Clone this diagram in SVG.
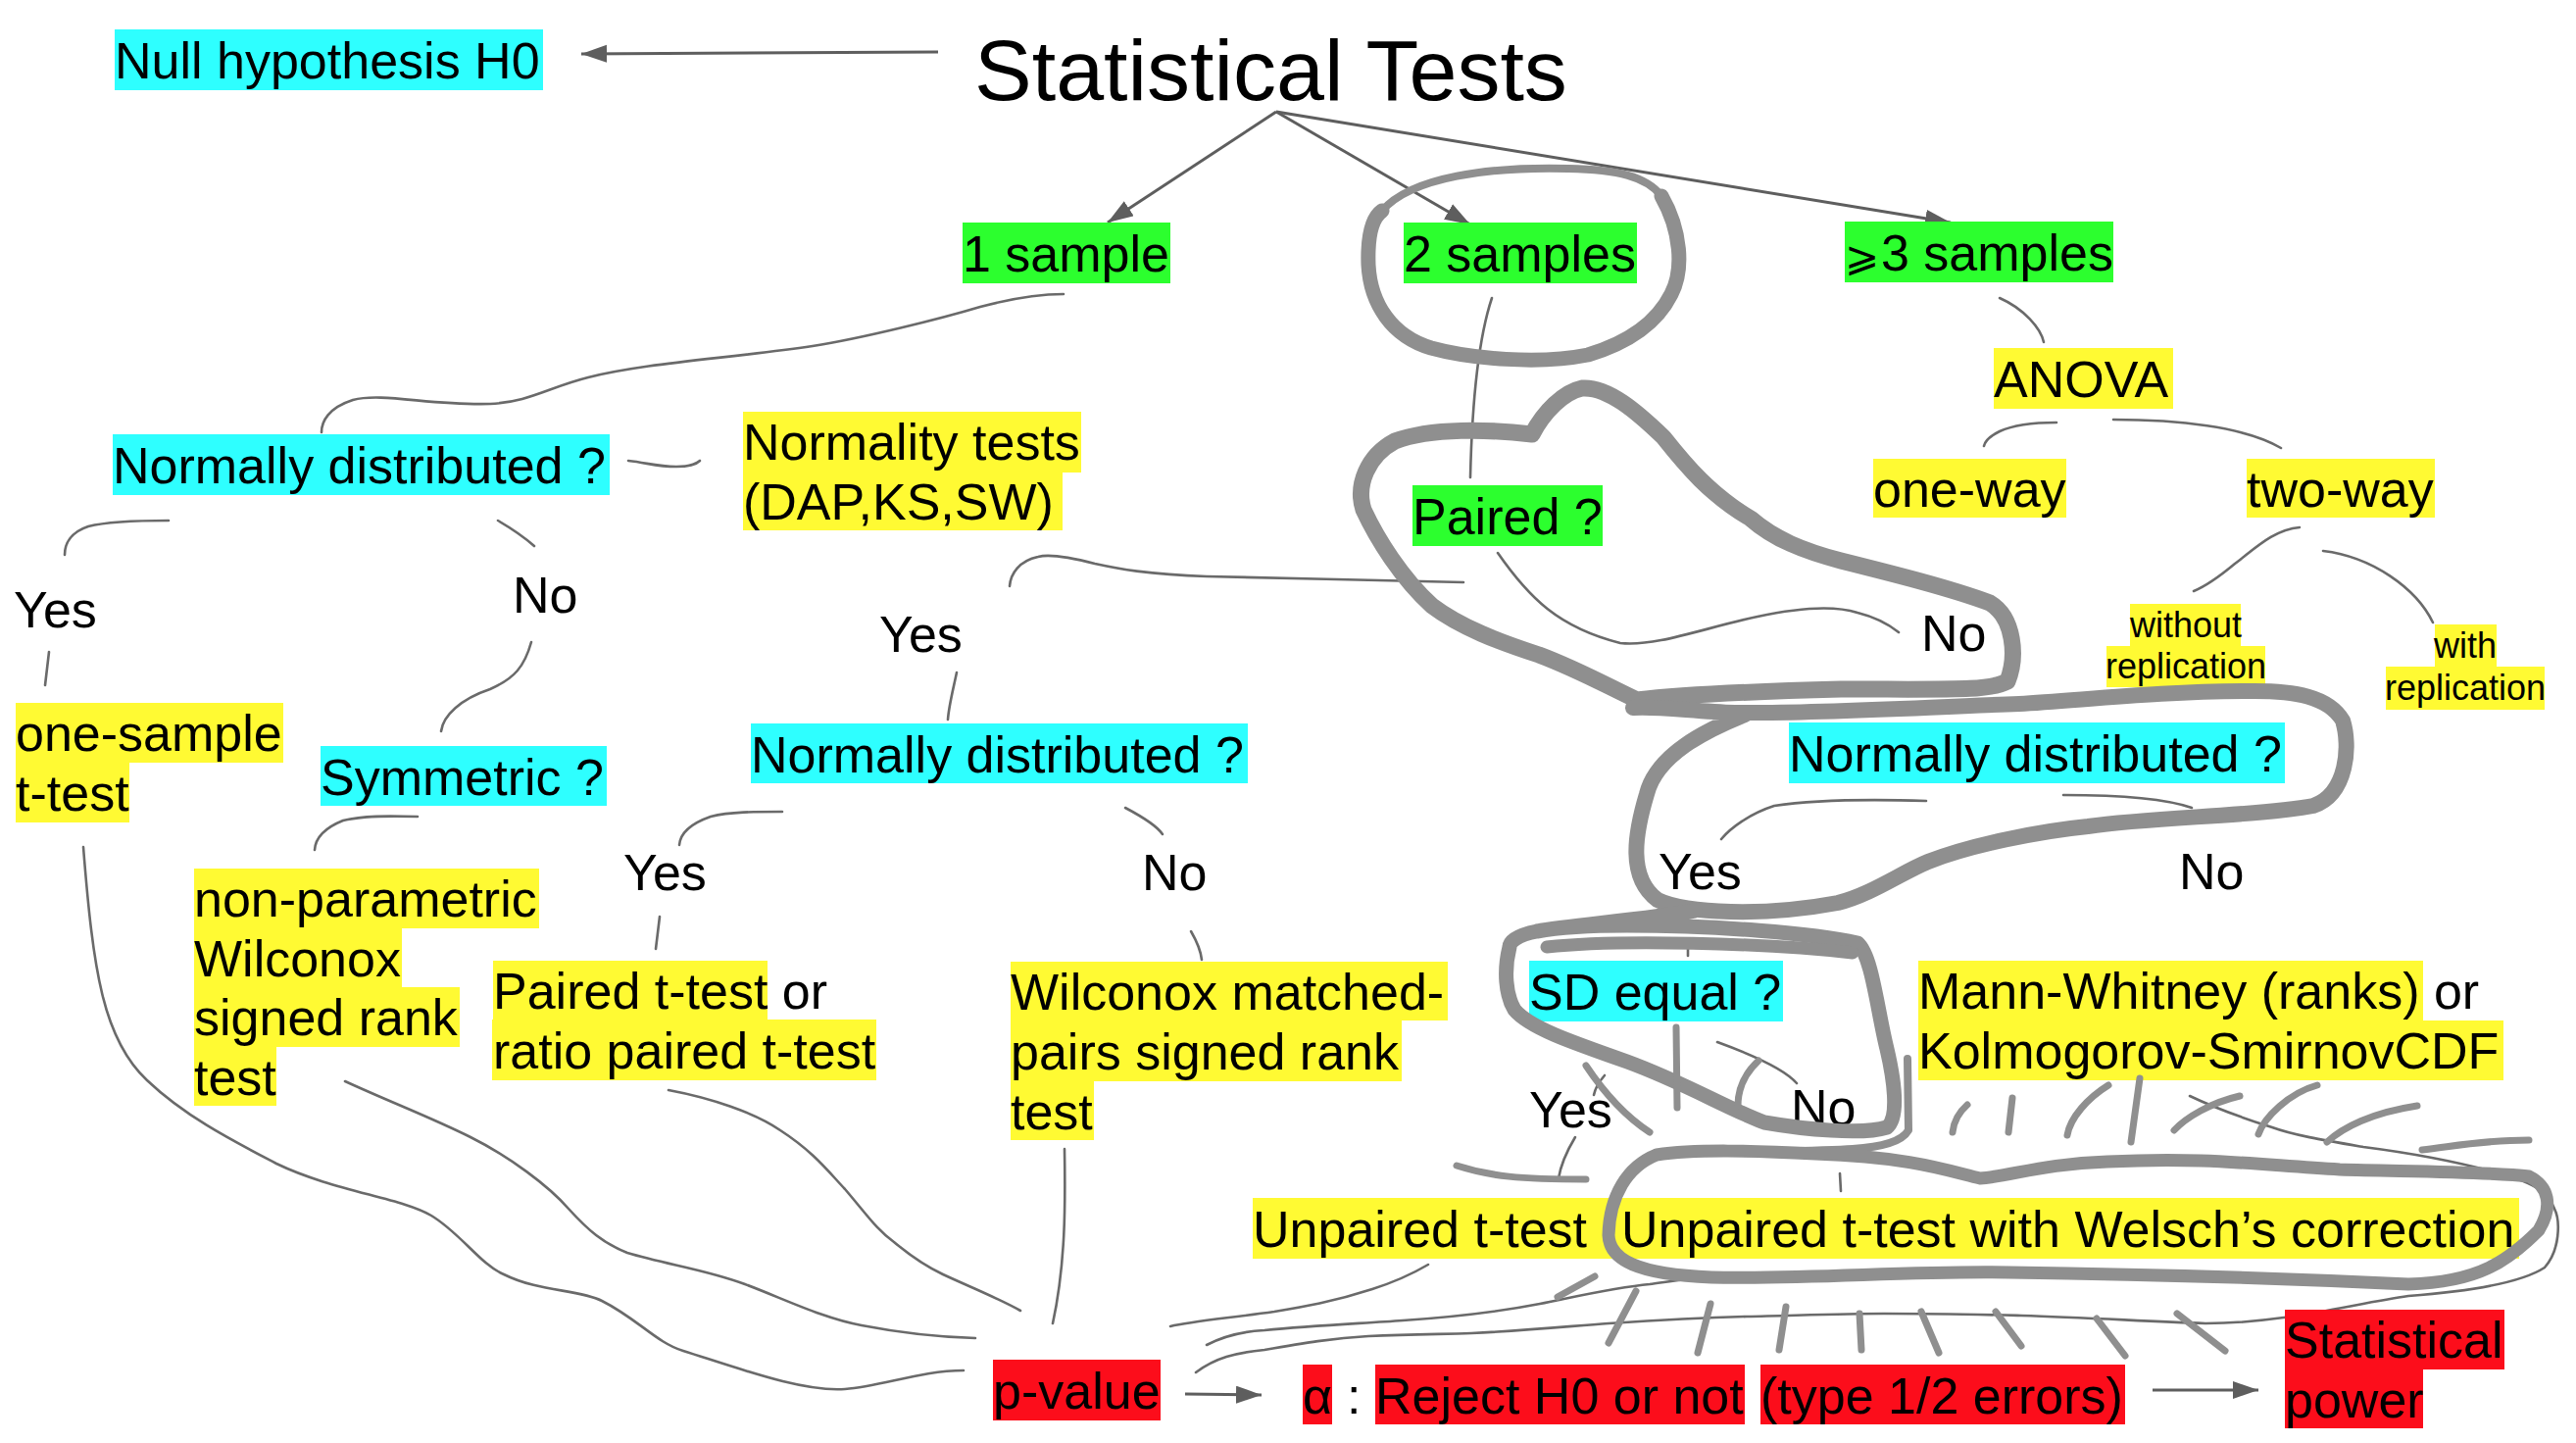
<svg xmlns="http://www.w3.org/2000/svg" width="2628" height="1472" viewBox="0 0 2628 1472">
<defs>
<style>
text{font-family:"Liberation Sans",Arial,sans-serif;font-size:52px;fill:#000}
.big{font-size:88px}
.sm{font-size:36px}
.cy{fill:#2effff}
.gr{fill:#2cff2e}
.ye{fill:#fffa33}
.rd{fill:#fc0d1b}
.c{fill:none;stroke:#6a6a6a;stroke-width:2.6;stroke-linecap:round}
.a{fill:none;stroke:#5e5e5e;stroke-width:3;marker-end:url(#ah)}
.loop{fill:none;stroke:#8f8f8f;stroke-linecap:round;stroke-linejoin:round}
.tk{fill:none;stroke:#8f8f8f;stroke-width:7;stroke-linecap:round}
</style>
<marker id="ah" markerUnits="userSpaceOnUse" markerWidth="28" markerHeight="20" refX="26" refY="9" orient="auto"><path d="M0,0 L26,9 L0,18 z" fill="#5e5e5e"/></marker>
</defs>
<rect width="2628" height="1472" fill="#fff"/>

<g id="connectors">
<path class="a" d="M957,53 L593,55"/>
<path class="a" d="M1302,114 L1130,227"/>
<path class="a" d="M1302,114 L1500,229"/>
<path class="a" d="M1302,114 L1990,227"/>
<path class="c" d="M1085,300 C1060,300 1030,305 1000,313 C960,325 880,345 829,353 C740,366 660,370 600,385 C560,395 540,410 500,412 C440,414 390,400 360,408 C335,416 328,430 328,441"/>
<path class="c" d="M641,470 C660,472 670,476 690,476 C705,476 712,472 714,470"/>
<path class="c" d="M172,531 C140,531 110,532 90,537 C72,543 66,555 66,566"/>
<path class="c" d="M508,531 C520,538 535,548 545,557"/>
<path class="c" d="M50,665 L46,699"/>
<path class="c" d="M542,655 C535,680 525,692 500,703 C470,713 452,730 450,746"/>
<path class="c" d="M426,833 C395,832 370,832 350,837 C335,843 322,852 321,867"/>
<path class="c" d="M85,864 C95,990 105,1060 150,1102 C190,1140 240,1165 282,1187 C340,1215 410,1222 440,1240 C470,1258 490,1290 514,1300 C550,1318 590,1315 614,1327 C650,1345 670,1370 697,1378 C760,1398 820,1420 862,1417 C900,1414 940,1398 983,1398"/>
<path class="c" d="M352,1103 C400,1125 440,1140 480,1160 C520,1180 560,1210 580,1233 C600,1255 615,1268 640,1278 C680,1290 720,1295 760,1310 C800,1325 840,1345 879,1352 C920,1360 960,1364 995,1365"/>
<path class="c" d="M682,1112 C725,1120 770,1135 796,1153 C830,1175 845,1195 862,1213 C885,1240 895,1255 912,1267 C930,1282 945,1292 962,1300 C990,1313 1020,1325 1041,1337"/>
<path class="c" d="M1086,1172 C1087,1230 1087,1290 1074,1350"/>
<path class="c" d="M1493,594 C1440,592 1300,590 1231,588 C1170,586 1140,580 1117,575 C1090,568 1070,565 1059,568 C1040,572 1031,585 1030,598"/>
<path class="c" d="M976,686 C972,705 968,720 967,734"/>
<path class="c" d="M798,828 C770,828 745,828 725,833 C705,840 694,850 693,862"/>
<path class="c" d="M673,935 L669,968"/>
<path class="c" d="M1148,824 C1165,833 1180,842 1186,851"/>
<path class="c" d="M1215,950 C1222,962 1225,970 1226,979"/>
<path class="c" d="M1522,304 C1510,340 1502,400 1500,487"/>
<path class="c" d="M1528,564 C1560,610 1590,640 1653,656 C1690,660 1740,640 1793,629 C1830,621 1870,617 1895,625 C1915,630 1927,637 1937,645"/>
<path class="c" d="M2040,304 C2065,315 2082,335 2085,349"/>
<path class="c" d="M2098,431 C2075,431 2055,433 2040,440 C2030,445 2025,450 2024,455"/>
<path class="c" d="M2156,428 C2220,428 2290,435 2327,457"/>
<path class="c" d="M2346,538 C2320,540 2300,560 2280,575 C2262,590 2250,598 2238,603"/>
<path class="c" d="M2370,562 C2420,568 2465,600 2482,635"/>
<path class="c" d="M1965,817 C1900,815 1850,816 1810,822 C1785,830 1765,845 1756,856"/>
<path class="c" d="M2105,811 C2160,811 2210,815 2236,824"/>
<path class="c" d="M1722,960 L1722,975"/>
<path class="c" d="M1637,1097 C1630,1105 1627,1112 1626,1117"/>
<path class="c" d="M1752,1063 C1785,1075 1820,1090 1833,1105"/>
<path class="c" d="M1607,1160 C1598,1175 1592,1190 1590,1202"/>
<path class="c" d="M1877,1197 L1878,1215"/>
<path class="c" d="M1457,1290 C1440,1300 1425,1307 1400,1315 C1360,1328 1330,1333 1300,1338 C1250,1345 1215,1348 1194,1353"/>
<path class="c" d="M1231,1372 C1250,1362 1270,1358 1290,1357 C1340,1352 1390,1350 1431,1347 C1490,1343 1530,1338 1571,1330 C1620,1320 1650,1313 1683,1310 C1705,1307 1725,1304 1739,1303"/>
<path class="c" d="M1220,1400 C1240,1385 1260,1380 1290,1377 C1330,1370 1360,1365 1396,1363 C1440,1361 1470,1361 1501,1360 C1560,1357 1600,1353 1641,1350 C1700,1346 1740,1344 1782,1343 C1830,1342 1880,1340 1922,1340 C1980,1340 2020,1341 2062,1342 C2130,1344 2190,1348 2250,1350 C2330,1350 2400,1330 2457,1322 C2510,1318 2570,1310 2596,1293 C2612,1275 2612,1245 2606,1233 C2600,1218 2590,1208 2550,1197 C2500,1183 2450,1175 2411,1170 C2370,1163 2340,1158 2318,1150 C2280,1138 2255,1128 2234,1118"/>
<path class="a" d="M1209,1422 L1287,1423"/>
<path class="a" d="M2196,1418 L2304,1418"/>
</g>

<g id="title"><text class="big" x="994" y="102">Statistical Tests</text></g>
<g id="null-hypothesis"><rect class="cy" x="117" y="30" width="437" height="62"/><text x="117" y="80">Null hypothesis H0</text></g>
<g id="one-sample"><rect class="gr" x="982" y="227" width="212" height="62"/><text x="982" y="277">1 sample</text></g>
<g id="two-samples"><rect class="gr" x="1432" y="227" width="238" height="62"/><text x="1432" y="277">2 samples</text></g>
<g id="three-samples"><rect class="gr" x="1882" y="226" width="274" height="62"/><text y="276"><tspan x="1882" font-size="42">⩾</tspan><tspan x="1919">3 samples</tspan></text></g>
<g id="anova"><rect class="ye" x="2034" y="355" width="183" height="62"/><text x="2034" y="405">ANOVA</text></g>
<g id="one-way"><rect class="ye" x="1911" y="468" width="197" height="60"/><text x="1911" y="517">one-way</text></g>
<g id="two-way"><rect class="ye" x="2292" y="468" width="192" height="60"/><text x="2292" y="517">two-way</text></g>
<g id="without-replication"><rect class="ye" x="2173" y="616" width="113" height="43"/><rect class="ye" x="2149" y="659" width="162" height="42"/><text class="sm" text-anchor="middle" x="2230" y="650">without<tspan x="2230" y="692">replication</tspan></text></g>
<g id="with-replication"><rect class="ye" x="2484" y="637" width="63" height="43"/><rect class="ye" x="2434" y="680" width="162" height="44"/><text class="sm" text-anchor="middle" x="2515" y="671">with<tspan x="2515" y="714">replication</tspan></text></g>
<g id="normality-tests"><rect class="ye" x="758" y="420" width="345" height="62"/><rect class="ye" x="758" y="482" width="326" height="59"/><text x="758" y="469">Normality tests<tspan x="758" y="530">(DAP,KS,SW)</tspan></text></g>
<g id="normal-1"><rect class="cy" x="115" y="443" width="507" height="62"/><text x="115" y="493">Normally distributed ?</text></g>
<g id="yes-1"><text x="14" y="640">Yes</text></g>
<g id="no-1"><text x="523" y="625">No</text></g>
<g id="one-sample-t"><rect class="ye" x="16" y="717" width="273" height="61"/><rect class="ye" x="16" y="778" width="116" height="61"/><text x="16" y="766">one-sample<tspan x="16" y="827">t-test</tspan></text></g>
<g id="symmetric"><rect class="cy" x="327" y="761" width="292" height="61"/><text x="327" y="811">Symmetric ?</text></g>
<g id="wilcoxon-signed"><rect class="ye" x="198" y="886" width="352" height="61"/><rect class="ye" x="198" y="947" width="212" height="60"/><rect class="ye" x="198" y="1007" width="271" height="61"/><rect class="ye" x="198" y="1068" width="84" height="60"/><text x="198" y="935">non-parametric<tspan x="198" y="996">Wilconox</tspan><tspan x="198" y="1056">signed rank</tspan><tspan x="198" y="1117">test</tspan></text></g>
<g id="paired"><rect class="gr" x="1441" y="495" width="194" height="62"/><text x="1441" y="545">Paired ?</text></g>
<g id="no-paired"><text x="1960" y="664">No</text></g>
<g id="yes-paired"><text x="897" y="665">Yes</text></g>
<g id="normal-2"><rect class="cy" x="766" y="738" width="507" height="61"/><text x="766" y="788">Normally distributed ?</text></g>
<g id="yes-2"><text x="636" y="908">Yes</text></g>
<g id="no-2"><text x="1165" y="908">No</text></g>
<g id="paired-t"><rect class="ye" x="503" y="980" width="280" height="60"/><rect class="ye" x="502" y="1040" width="392" height="62"/><text x="503" y="1029">Paired t-test or<tspan x="503" y="1090">ratio paired t-test</tspan></text></g>
<g id="wilconox-matched"><rect class="ye" x="1031" y="981" width="446" height="60"/><rect class="ye" x="1031" y="1041" width="399" height="62"/><rect class="ye" x="1031" y="1103" width="85" height="60"/><text x="1031" y="1030">Wilconox matched-<tspan x="1031" y="1091">pairs signed rank</tspan><tspan x="1031" y="1152">test</tspan></text></g>
<g id="normal-3"><rect class="cy" x="1825" y="737" width="506" height="62"/><text x="1825" y="787">Normally distributed ?</text></g>
<g id="yes-3"><text x="1692" y="907">Yes</text></g>
<g id="no-3"><text x="2223" y="907">No</text></g>
<g id="sd-equal"><rect class="cy" x="1560" y="980" width="259" height="62"/><text x="1560" y="1030">SD equal ?</text></g>
<g id="yes-4"><text x="1560" y="1150">Yes</text></g>
<g id="no-4"><text x="1827" y="1148">No</text></g>
<g id="mann-whitney"><rect class="ye" x="1957" y="980" width="515" height="61"/><rect class="ye" x="1957" y="1041" width="597" height="61"/><text x="1957" y="1029">Mann-Whitney (ranks) or<tspan x="1957" y="1090">Kolmogorov-SmirnovCDF</tspan></text></g>
<g id="unpaired-t"><rect class="ye" x="1278" y="1222" width="376" height="62"/><text x="1278" y="1272">Unpaired t-test</text></g>
<g id="welsch"><rect class="ye" x="1654" y="1222" width="916" height="62"/><text x="1654" y="1272">Unpaired t-test with Welsch’s correction</text></g>
<g id="p-value"><rect class="rd" x="1013" y="1387" width="171" height="62"/><text x="1013" y="1437">p-value</text></g>
<g id="decision"><rect class="rd" x="1329" y="1392" width="30" height="61"/><text x="1329" y="1442">α</text><text x="1374" y="1442">:</text><rect class="rd" x="1403" y="1392" width="377" height="61"/><text x="1403" y="1442">Reject H0 or not</text><rect class="rd" x="1796" y="1392" width="372" height="61"/><text x="1796" y="1442">(type 1/2 errors)</text></g>
<g id="statistical-power"><rect class="rd" x="2331" y="1336" width="224" height="61"/><rect class="rd" x="2331" y="1397" width="141" height="60"/><text x="2331" y="1385">Statistical<tspan x="2331" y="1446">power</tspan></text></g>

<g id="annotations">
<path class="loop" stroke-width="8" d="M1410,215 C1440,180 1520,170 1600,172 C1650,173 1680,180 1695,200"/>
<path class="loop" stroke-width="15" d="M1695,200 C1715,235 1718,275 1705,300 C1690,330 1660,350 1620,362 C1570,372 1500,366 1460,355 C1420,343 1398,310 1396,270 C1395,240 1400,222 1410,215"/>
<path class="loop" stroke-width="17" d="M1563,443 C1575,420 1595,400 1614,396 C1640,394 1670,420 1697,446 C1720,475 1745,505 1786,529 C1810,550 1840,562 1878,572 C1930,585 1990,600 2030,615 C2055,630 2058,670 2048,695 C2030,705 1990,703 1878,703 C1800,705 1720,708 1670,714 C1640,700 1610,683 1570,668 C1530,655 1490,640 1461,618 C1430,590 1405,550 1391,520 C1383,495 1395,465 1423,450 C1460,436 1520,438 1563,443"/>
<path class="loop" stroke-width="16" d="M1666,722 C1690,720 1730,726 1770,727 C1850,728 1950,722 2060,718 C2120,715 2200,705 2300,705 C2340,705 2375,710 2390,735 C2398,760 2395,810 2360,822 C2300,833 2200,833 2130,843 C2080,848 2010,862 1967,879 C1940,890 1910,912 1875,921 C1800,935 1720,932 1691,918 C1660,895 1668,850 1680,810 C1690,770 1740,745 1780,729"/>
<path class="loop" stroke-width="15" d="M1729,929 C1680,938 1600,944 1568,950 C1548,954 1540,960 1540,966 C1534,990 1536,1015 1545,1030 C1560,1048 1600,1062 1660,1083 C1720,1105 1760,1130 1800,1145 C1840,1152 1900,1158 1925,1150 C1938,1140 1932,1100 1925,1070 C1915,1030 1910,975 1895,962 C1850,952 1750,944 1660,944 C1620,944 1590,946 1568,950"/>
<path class="loop" stroke-width="13" d="M1578,966 C1650,958 1800,962 1890,972"/>
<path class="loop" stroke-width="8" d="M1946,1080 L1947,1153 C1940,1165 1920,1170 1890,1172 C1850,1175 1760,1174 1690,1178"/>
<path class="loop" stroke-width="13" d="M1690,1178 C1660,1190 1642,1220 1641,1260 C1642,1285 1670,1300 1746,1303 C1850,1305 1950,1296 2050,1298 C2200,1300 2350,1305 2457,1310 C2530,1308 2560,1285 2590,1255 C2605,1230 2600,1210 2580,1200 C2540,1195 2450,1195 2387,1193 C2300,1188 2250,1180 2150,1185 C2086,1187 2050,1200 2020,1202 C1990,1195 1950,1180 1852,1177 C1790,1174 1730,1172 1690,1178"/>
<path class="tk" stroke-width="6" d="M1486,1189 C1520,1200 1550,1203 1618,1203"/>
<path class="tk" d="M1618,1087 C1640,1120 1660,1140 1683,1155"/>
<path class="tk" d="M1710,1048 L1711,1130"/>
<path class="tk" stroke-width="6" d="M1794,1082 C1780,1095 1773,1110 1773,1128"/>
<path class="tk" stroke-width="6" d="M2007,1127 C1998,1135 1993,1145 1992,1155"/>
<path class="tk" stroke-width="6" d="M2053,1120 L2049,1155"/>
<path class="tk" d="M2151,1107 C2130,1120 2112,1140 2109,1158"/>
<path class="tk" stroke-width="8" d="M2183,1100 L2174,1165"/>
<path class="tk" stroke-width="6" d="M2285,1118 C2255,1125 2230,1140 2218,1153"/>
<path class="tk" d="M2364,1107 C2335,1115 2310,1140 2304,1157"/>
<path class="tk" stroke-width="8" d="M2466,1128 C2420,1135 2390,1150 2374,1165"/>
<path class="tk" stroke-width="8" d="M2580,1163 C2530,1163 2500,1170 2471,1173"/>
<path class="tk" stroke-width="9" d="M1627,1302 L1589,1323"/>
<path class="tk" d="M1669,1317 L1641,1370"/>
<path class="tk" d="M1745,1330 L1732,1380"/>
<path class="tk" d="M1822,1333 L1815,1377"/>
<path class="tk" d="M1897,1340 L1899,1377"/>
<path class="tk" d="M1960,1338 L1978,1380"/>
<path class="tk" d="M2036,1338 L2062,1373"/>
<path class="tk" d="M2139,1345 L2168,1383"/>
<path class="tk" d="M2221,1340 L2270,1378"/>
</g>
</svg>
